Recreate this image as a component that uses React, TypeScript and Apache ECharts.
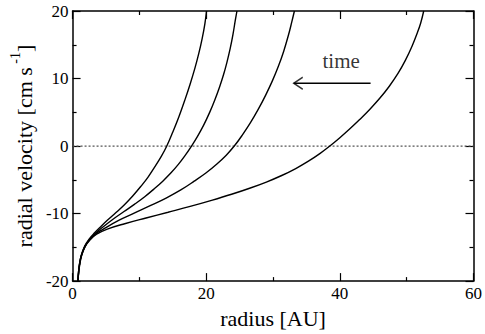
import React, { useEffect, useRef } from "react";
import * as echarts from "echarts";

// Axis ranges and tick steps
const X_RANGE = [0, 60];
const X_STEP = 20;
const Y_RANGE = [-20, 20];
const Y_STEP = 10;

// Radial velocity curves (radius [AU], velocity [cm/s])
const curveA = [
  [0.8, -20], [0.9, -18.6], [1.05, -17.4], [1.3, -16.2], [1.8, -14.85], [2.5, -13.75],
  [3.3, -12.85], [4.2, -11.95], [5.2, -11.0], [6.5, -9.85], [7.8, -8.65], [9.0, -7.4],
  [10.2, -6.0], [11.3, -4.6], [12.3, -3.1], [13.3, -1.5], [14.1, 0], [15.0, 2.07],
  [15.9, 4.3], [16.8, 6.8], [17.6, 9.2], [18.3, 11.5], [18.9, 13.75], [19.4, 15.95],
  [19.8, 18.1], [20.05, 20],
];
const curveB = [
  [0.8, -20], [0.9, -18.65], [1.05, -17.45], [1.3, -16.25], [1.8, -14.95], [2.5, -13.9],
  [3.4, -12.95], [4.6, -11.95], [6.1, -10.8], [7.7, -9.7], [9.3, -8.6], [10.8, -7.5],
  [12.2, -6.35], [13.5, -5.2], [14.7, -4.0], [15.8, -2.75], [16.8, -1.45], [17.8, 0],
  [18.7, 1.44], [19.6, 3.06], [20.5, 4.95], [21.3, 6.87], [22.0, 8.76], [22.6, 10.6],
  [23.1, 12.4], [23.6, 14.5], [24.0, 16.5], [24.35, 18.6], [24.6, 20],
];
const curveC = [
  [0.8, -20], [0.9, -18.7], [1.05, -17.5], [1.3, -16.3], [1.8, -15.0], [2.4, -14.05],
  [3.3, -13.1], [4.6, -12.3], [6.9, -11.0], [9.3, -9.9], [11.7, -8.8], [14.0, -7.7],
  [16.2, -6.5], [18.2, -5.2], [20.0, -3.95], [21.6, -2.65], [23.0, -1.35], [24.2, 0],
  [25.4, 1.62], [26.6, 3.42], [27.8, 5.46], [28.9, 7.55], [29.9, 9.65], [30.8, 11.8],
  [31.6, 14.05], [32.3, 16.4], [32.8, 18.35], [33.2, 20],
];
const curveD = [
  [0.8, -20], [0.92, -18.75], [1.1, -17.4], [1.4, -16.05], [1.9, -14.85], [2.6, -13.9],
  [3.6, -13.05], [5.2, -12.3], [7.8, -11.5], [11.0, -10.65], [14.3, -9.8], [17.6, -8.94],
  [20.8, -8.04], [23.8, -7.14], [26.5, -6.25], [29.0, -5.33], [31.3, -4.36], [33.4, -3.33],
  [35.3, -2.24], [37.0, -1.12], [38.5, 0], [40.0, 1.23], [41.5, 2.55], [43.0, 3.96],
  [44.5, 5.46], [46.0, 7.11], [47.4, 8.86], [48.7, 10.75], [49.8, 12.68], [50.8, 14.78],
  [51.6, 16.78], [52.1, 18.23], [52.55, 20],
];
const curves = [curveA, curveB, curveC, curveD];

// Reference line and annotation (data coordinates)
const zeroLine = [[0, 0], [60, 0]];
const arrowShaft = [[44.6, 9.3], [33.1, 9.3]];
const arrowTip = [[33.1, 9.3]];
const timeLabelPos = [[40.2, 12.6]];
const timeLabel = "time";

const FONT = "'Liberation Serif', 'Times New Roman', serif";

export default function App() {
  const ref = useRef<HTMLDivElement>(null);

  useEffect(() => {
    document.body.style.margin = "0";
    const chart = echarts.init(ref.current!, null, { renderer: "svg" });

    const axisLineStyle = { color: "#000", width: 1.5 };
    const tickStyle = { color: "#000", width: 1.2 };
    const baseX = {
      type: "value",
      min: X_RANGE[0],
      max: X_RANGE[1],
      interval: X_STEP,
      splitLine: { show: false },
      axisLine: { show: true, onZero: false, lineStyle: axisLineStyle },
      axisTick: { show: true, inside: true, length: 8, lineStyle: tickStyle },
      minorTick: { show: true, splitNumber: 2, length: 4, lineStyle: tickStyle },
    };
    const baseY = {
      type: "value",
      min: Y_RANGE[0],
      max: Y_RANGE[1],
      interval: Y_STEP,
      splitLine: { show: false },
      axisLine: { show: true, onZero: false, lineStyle: axisLineStyle },
      axisTick: { show: true, inside: true, length: 8, lineStyle: tickStyle },
      minorTick: { show: true, splitNumber: 2, length: 4, lineStyle: tickStyle },
    };

    const curveSeries = curves.map((c) => ({
      type: "line",
      data: c,
      showSymbol: false,
      smooth: 0.4,
      lineStyle: { color: "#000", width: 1.4 },
      silent: true,
      z: 3,
    }));

    chart.setOption({
      animation: false,
      backgroundColor: "#fff",
      grid: { left: 67, right: 8, top: 11, bottom: 38 },
      xAxis: [
        {
          ...baseX,
          position: "bottom",
          axisLabel: { show: true, fontFamily: FONT, fontSize: 17, color: "#000", margin: 4 },
          name: "radius [AU]",
          nameLocation: "middle",
          nameGap: 18,
          nameTextStyle: { fontFamily: FONT, fontSize: 22, color: "#000" },
        },
        { ...baseX, position: "top", axisLabel: { show: false } },
      ],
      yAxis: [
        {
          ...baseY,
          position: "left",
          axisLabel: { show: true, fontFamily: FONT, fontSize: 17, color: "#000", margin: 4 },
          name: "{a|radial velocity [cm s}{b| -1}{a|]}",
          nameLocation: "middle",
          nameGap: 31,
          nameTextStyle: {
            fontFamily: FONT,
            fontSize: 22,
            color: "#000",
            rich: {
              a: { fontFamily: FONT, fontSize: 22, color: "#000", lineHeight: 27, verticalAlign: "bottom" },
              b: { fontFamily: FONT, fontSize: 14, color: "#000", lineHeight: 14, verticalAlign: "top" },
            },
          },
        },
        { ...baseY, position: "right", axisLabel: { show: false } },
      ],
      series: [
        {
          type: "line",
          data: zeroLine,
          showSymbol: false,
          silent: true,
          lineStyle: { color: "#555", width: 1.3, type: [2, 2] },
          z: 2,
        },
        ...curveSeries,
        {
          type: "line",
          data: arrowShaft,
          showSymbol: false,
          silent: true,
          lineStyle: { color: "#000", width: 1.4 },
        },
        {
          type: "scatter",
          data: arrowTip,
          symbol: "path://M10,0 L0,6 L10,12",
          symbolSize: [9, 12],
          symbolOffset: ["50%", 0],
          silent: true,
          itemStyle: { color: "rgba(0,0,0,0)", borderColor: "#000", borderWidth: 1.4 },
        },
        {
          type: "scatter",
          data: timeLabelPos,
          symbolSize: 1,
          silent: true,
          itemStyle: { color: "rgba(0,0,0,0)" },
          label: {
            show: true,
            position: "inside",
            formatter: timeLabel,
            fontFamily: FONT,
            fontSize: 21,
            color: "#000",
          },
        },
      ],
    });

    return () => chart.dispose();
  }, []);

  return (
    <div
      ref={ref}
      style={{ position: "absolute", left: 0, top: 0, width: 485, height: 334, background: "#fff" }}
    />
  );
}
